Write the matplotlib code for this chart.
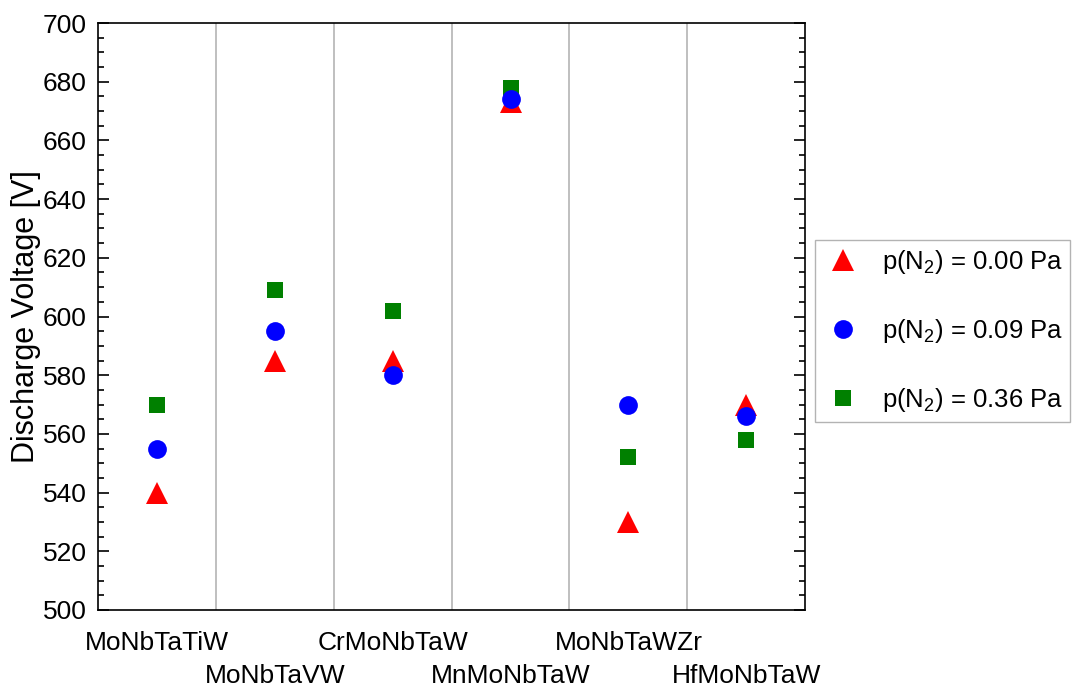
import matplotlib
matplotlib.use("Agg")
import matplotlib.pyplot as plt
import matplotlib.transforms as mtransforms
import numpy as np

plt.rcParams['font.family'] = ['Liberation Sans', 'DejaVu Sans']
plt.rcParams['mathtext.default'] = 'regular'

# Discharge voltage per target alloy at three N2 partial pressures
alloys = ['MoNbTaTiW', 'MoNbTaVW', 'CrMoNbTaW', 'MnMoNbTaW', 'MoNbTaWZr', 'HfMoNbTaW']
v_000 = [540, 585, 585, 673, 530, 570]
v_009 = [555, 595, 580, 674, 570, 566]
v_036 = [570, 609, 602, 678, 552, 558]
labels = ['p(N$_2$) = 0.00 Pa', 'p(N$_2$) = 0.09 Pa', 'p(N$_2$) = 0.36 Pa']

x = np.arange(len(alloys))

fig = plt.figure(figsize=(10.72, 6.87), dpi=100)
ax = fig.add_axes([0.0914, 0.1121, 0.6597, 0.8544])

# separators between alloys
for xs in x[:-1] + 0.5:
    ax.axvline(xs, color='#b4b4b4', lw=1.2, zorder=1)

ax.plot(x, v_000, '^', color='red', ms=15.5, mew=0, ls='none', label=labels[0], zorder=3)
ax.plot(x, v_009, 'o', color='blue', ms=13.5, mew=0, ls='none', label=labels[1], zorder=3)
ax.plot(x, v_036, 's', color='green', ms=12, mew=0, ls='none', label=labels[2], zorder=2)

ax.set_xlim(-0.5, len(alloys) - 0.5)
ax.set_ylim(500, 700)
ax.set_yticks(np.arange(500, 701, 20))
ax.set_yticks(np.arange(500, 701, 5), minor=True)

ax.set_xticks(x)
ax.set_xticklabels(alloys, fontsize=19)
ax.tick_params(axis='x', length=0, pad=15)
# stagger the alloy names over two rows
shift = mtransforms.ScaledTranslation(0, -33 / 100, fig.dpi_scale_trans)
for i, lab in enumerate(ax.get_xticklabels()):
    if i % 2 == 1:
        lab.set_transform(lab.get_transform() + shift)

ax.tick_params(axis='y', which='both', direction='in', right=True, labelsize=19,
               width=1.2, pad=8)
ax.tick_params(axis='y', which='major', length=8)
ax.tick_params(axis='y', which='minor', length=4)

for sp in ax.spines.values():
    sp.set_linewidth(1.2)

ax.set_ylabel('Discharge Voltage [V]', fontsize=22, labelpad=1)

leg = ax.legend(loc='center left', bbox_to_anchor=(0.760, 0.518),
                bbox_transform=fig.transFigure, fontsize=18.5, frameon=True,
                fancybox=False, edgecolor='#a0a0a0', labelspacing=1.6,
                handletextpad=0.7, borderpad=0.3, handlelength=1.6,
                borderaxespad=0)
leg.get_frame().set_linewidth(1.0)

fig.savefig('out.png', dpi=100)
